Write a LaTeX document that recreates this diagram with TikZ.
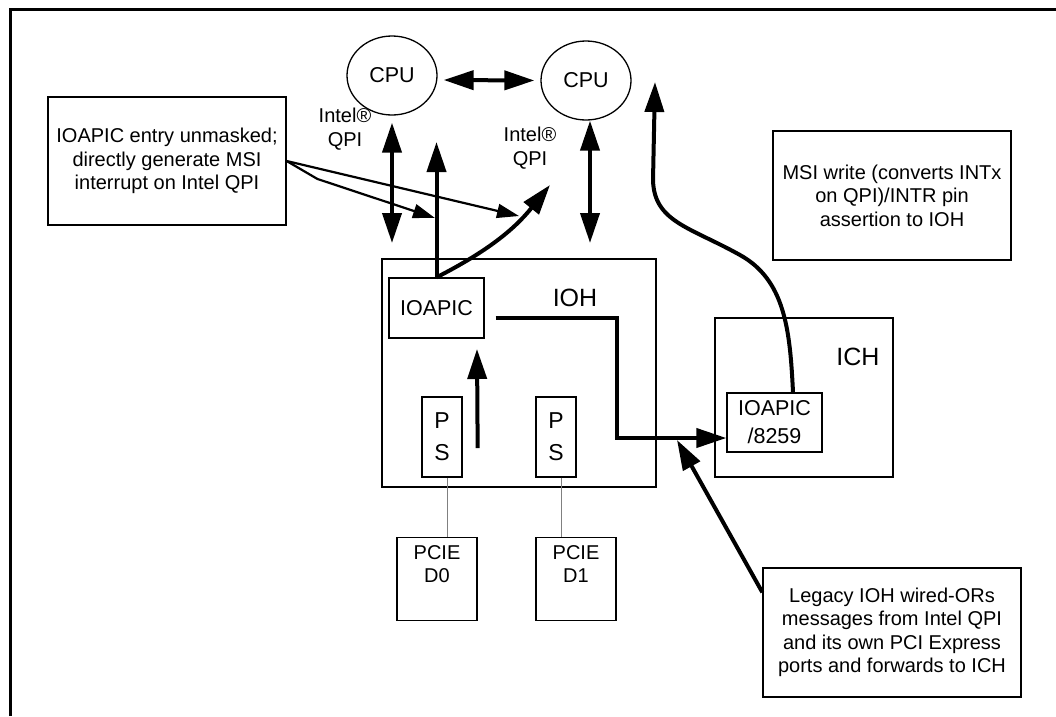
\documentclass[tikz,border=0pt]{standalone}
\usepackage{fontspec}
\setmainfont{Liberation Sans}
\usetikzlibrary{arrows.meta,shapes.geometric}

\newcommand{\notefont}{\fontsize{20}{23.5}\selectfont}
\newcommand{\chipfont}{\fontsize{21.5}{28}\selectfont}
\newcommand{\hubfont}{\fontsize{25}{30}\selectfont}
\newcommand{\portfont}{\fontsize{23}{32}\selectfont}

\tikzset{
  box/.style={draw, line width=1.3pt, inner sep=0pt},
  cpu/.style={ellipse, draw, line width=1.3pt, inner sep=0pt,
    minimum width=90pt, minimum height=79pt, font=\chipfont},
  note/.style={box, align=center, font=\notefont},
  ps/.style={box, minimum width=40pt, minimum height=80pt, align=center, font=\portfont},
  pcie/.style={box, minimum width=80pt, minimum height=83pt, anchor=north},
  pcietext/.style={anchor=north, align=center, inner sep=0pt, yshift=-8pt,
    font=\fontsize{20}{23}\selectfont},
  bus/.style={line width=4pt},
  pointer/.style={line width=2.2pt, -{Triangle[length=22pt,width=14pt]}},
  wire/.style={gray, line width=1pt},
  >={Triangle[length=30pt,width=19pt]}
}

\begin{document}
\begin{tikzpicture}[x=1pt,y=-1pt]
  \useasboundingbox (0,0) rectangle (1056,716);
  % frame, only its top and left edges show
  \draw[line width=3pt] (10.5,716) -- (10.5,9) -- (1056,9);

  % processors
  \node[cpu] (cpuA) at (392,75.5) {CPU};
  \node[cpu] (cpuB) at (586,80.5) {CPU};
  \node[align=center, font=\notefont] (qpiA) at (345,129) {Intel®\\QPI};
  \node[align=center, font=\notefont] (qpiB) at (530,148) {Intel®\\QPI};

  % IOH
  \node[box, minimum width=274pt, minimum height=228pt] (ioh) at (519,373) {};
  \node[font=\hubfont] (iohlabel) at (575,298) {IOH};
  \node[box, minimum width=95pt, minimum height=60pt, font=\chipfont] (ioapicA) at (436.5,308) {IOAPIC};
  \node[ps] (psA) at (442,437) {P\\S};
  \node[ps] (psB) at (556,437) {P\\S};

  % PCIE devices
  \node[pcie, label={[pcietext]north:{PCIE\\D0}}] (pcieA) at (437,537) {};
  \node[pcie, label={[pcietext]north:{PCIE\\D1}}] (pcieB) at (576,537) {};

  % ICH
  \node[box, minimum width=178pt, minimum height=159pt] (ich) at (804,397.5) {};
  \node[font=\hubfont] (ichlabel) at (858,357) {ICH};
  \node[box, minimum width=95pt, minimum height=59pt, align=center, font=\chipfont] (ioapicB) at (774.5,422.5) {IOAPIC\\/8259};

  % callouts
  \node[note, minimum width=238pt, minimum height=128pt] (callA) at (167,161)
    {IOAPIC entry unmasked;\\directly generate MSI\\interrupt on Intel QPI};
  \node[note, minimum width=238pt, minimum height=129pt] (callB) at (892,195.5)
    {MSI write (converts INTx\\on QPI)/INTR pin\\assertion to IOH};
  \node[note, minimum width=258pt, minimum height=129pt] (callC) at (892,632.5)
    {Legacy IOH wired-ORs\\messages from Intel QPI\\and its own PCI Express\\ports and forwards to ICH};

  \coordinate (qpiAend) at (392,243);
  \coordinate (qpiBend) at (590,243);
  \coordinate (msiA) at (437,142);
  \coordinate (msiB) at (550,185);
  \coordinate (msiC) at (655,82);
  \coordinate (bend) at (617,438);
  \coordinate (wiredor) at (677,440);
  \coordinate (kneeA) at (317.5,179);
  \coordinate (tipA) at (435,218);
  \coordinate (tipB) at (519,216);
  \coordinate (upA) at (477,349);

  % QPI links
  \draw[bus,<->] ([xshift=6pt,yshift=-4.5pt]cpuA.east) -- ([xshift=-6pt]cpuB.west);
  \draw[bus,<->] ([yshift=-7pt]cpuA.south) -- (qpiAend);
  \draw[bus,<->] (cpuB.south -| qpiBend) -- (qpiBend);

  % interrupt paths
  \draw[bus,->] (ioapicA.north) -- (ioapicA.north |- msiA);
  \draw[bus,->] (ioapicA.north) to[bend right=12] (msiB);
  \draw[bus,->] ([xshift=15pt,yshift=-11pt]psA.east) -- (upA);
  \draw[bus,->] ([xshift=11pt,yshift=-10pt]ioapicA.east) -| (bend) -- ([yshift=-15.5pt]ioapicB.west);
  \draw[bus,->] ([xshift=18.5pt]ioapicB.north) .. controls (790,330) and (785,280) .. (740,255)
    .. controls (690,227) and (654,222) .. (653,180) -- (msiC);
  \draw[bus,->] ([yshift=-25pt]callC.north west) -- (wiredor);

  % callout pointers
  \draw[pointer] (callA.east) -- (kneeA) -- (tipA);
  \draw[pointer] (callA.east) -- (tipB);

  % PCIE wires
  \draw[wire] ([xshift=5pt]psA.south) -- ([xshift=5pt]psA.south |- pcieA.north);
  \draw[wire] ([xshift=5pt]psB.south) -- ([xshift=5pt]psB.south |- pcieB.north);
\end{tikzpicture}
\end{document}
